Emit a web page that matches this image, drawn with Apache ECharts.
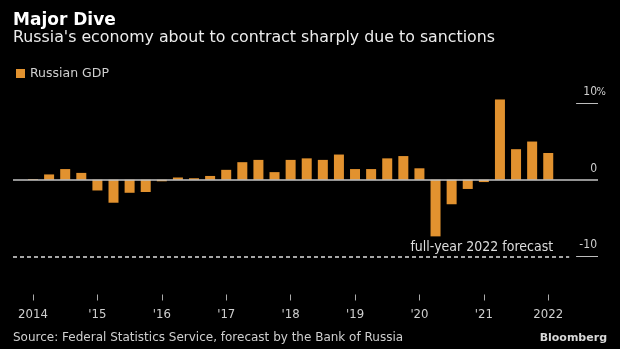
<!DOCTYPE html>
<html>
<head>
<meta charset="utf-8">
<script src="https://cdn.jsdelivr.net/npm/echarts@6/dist/echarts.min.js"></script>
<style>
  html, body { margin: 0; padding: 0; background: #000; }
  #chart { width: 620px; height: 349px; }
</style>
</head>
<body>
<div id="chart"></div>
<script>
// Russian GDP, year-over-year change in %, quarterly from 2014 Q1 to 2022 Q1
const gdpGrowth = [
  0.1, 0.7, 1.4, 0.9,      // 2014
  -1.4, -3.0, -1.7, -1.6,  // 2015
  -0.2, 0.3, 0.2, 0.5,     // 2016
  1.3, 2.3, 2.6, 1.0,      // 2017
  2.6, 2.8, 2.6, 3.3,      // 2018
  1.4, 1.4, 2.8, 3.1,      // 2019
  1.5, -7.4, -3.2, -1.2,   // 2020
  -0.3, 10.5, 4.0, 5.0,    // 2021
  3.5                      // 2022
];

// Year labels, one at each first quarter
const yearTickLabels = ['2014', "'15", "'16", "'17", "'18", "'19", "'20", "'21", '2022'];

// Central bank's full-year 2022 forecast, %
const forecast2022 = -10;

// Value axis labels, and the ones that get a short rule under them
const valueTicks = [-10, 0, 10];
const valueRules = [-10, 10];

const sans = "'DejaVu Sans', sans-serif";
const condensed = "'DejaVu Sans Condensed', 'DejaVu Sans', sans-serif";
const textGrey = '#cfcfcf';

const quarterIndex = gdpGrowth.map((v, i) => [i, v]);
const yearIndex = yearTickLabels.map((_, i) => i * 4);

// Horizontal extent of the plot, in quarters from 2014 Q1
const X_MIN = -1.242;
const X_MAX = 35.09;
const FORECAST_END = 33.3;
const RULE_START = 33.73;

const forecastLabel = {
  show: true, position: 'insideEndTop', distance: 2,
  formatter: 'full-year 2022 forecast',
  color: '#dddddd', fontFamily: condensed, fontSize: 14,
  padding: [0, 14, 0, 0]
};
const forecastStyle = { color: '#dddddd', width: 1.5, type: [4, 3] };
const ruleStyle = { color: '#bdbdbd', width: 1, type: 'solid' };

const markLines = [
  { yAxis: 0, lineStyle: { color: '#c4c4c4', width: 1.5, type: 'solid' }, label: { show: false } },
  [
    { coord: [X_MIN, forecast2022], lineStyle: forecastStyle, label: forecastLabel },
    { coord: [FORECAST_END, forecast2022], lineStyle: forecastStyle, label: forecastLabel }
  ]
].concat(valueRules.map(v => [
  { coord: [RULE_START, v], lineStyle: ruleStyle, label: { show: false } },
  { coord: [X_MAX, v], lineStyle: ruleStyle, label: { show: false } }
]));

const chart = echarts.init(document.getElementById('chart'), null, { renderer: 'canvas' });

chart.setOption({
  backgroundColor: '#000',
  animation: false,
  title: [
    {
      text: 'Major Dive',
      left: 13, top: 12, padding: 0,
      textStyle: { color: '#ffffff', fontFamily: sans, fontWeight: 'bold', fontSize: 17 }
    },
    {
      text: "Russia's economy about to contract sharply due to sanctions",
      left: 13, top: 30, padding: 0,
      textStyle: { color: '#ececec', fontFamily: sans, fontWeight: 'normal', fontSize: 15.8 }
    },
    {
      text: 'Source: Federal Statistics Service, forecast by the Bank of Russia',
      left: 13, top: 332, padding: 0,
      textStyle: { color: textGrey, fontFamily: sans, fontWeight: 'normal', fontSize: 12 }
    },
    {
      text: 'Bloomberg',
      right: 13, top: 333, padding: 0,
      textStyle: { color: '#d8d8d8', fontFamily: sans, fontWeight: 'bold', fontSize: 11 }
    }
  ],
  legend: {
    data: ['Russian GDP'],
    left: 16, top: 67, padding: 0,
    icon: 'rect', itemWidth: 9, itemHeight: 9,
    selectedMode: false,
    textStyle: { color: textGrey, fontFamily: sans, fontSize: 12.5 }
  },
  grid: { left: 13, right: 22, top: 88, bottom: 54.5 },
  xAxis: {
    type: 'value',
    min: X_MIN,
    max: X_MAX,
    axisLine: { show: false, onZero: false },
    splitLine: { show: false },
    axisTick: {
      show: true, length: 6, customValues: yearIndex,
      lineStyle: { color: '#aaaaaa', width: 1 }
    },
    axisLabel: {
      customValues: yearIndex,
      formatter: v => yearTickLabels[Math.round(v / 4)],
      color: textGrey, fontFamily: condensed, fontSize: 13, margin: 14
    }
  },
  yAxis: {
    type: 'value',
    position: 'right',
    min: -15,
    max: 12,
    axisLine: { show: false },
    splitLine: { show: false },
    axisTick: { show: false },
    axisLabel: {
      margin: 8,
      align: 'right',
      customValues: valueTicks,
      verticalAlign: 'bottom',
      padding: [0, 0, 5, 0],
      formatter: v => (v === 10 ? '{n|10}{p|%}' : '{n|' + v + '}{s| }'),
      rich: {
        n: { color: textGrey, fontFamily: condensed, fontSize: 12 },
        p: { color: textGrey, fontFamily: condensed, fontSize: 11, width: 9 },
        s: { fontSize: 11, width: 9 }
      }
    }
  },
  series: [
    {
      name: 'Russian GDP',
      type: 'bar',
      data: quarterIndex,
      barWidth: 10,
      itemStyle: { color: '#e2922f' },
      markLine: {
        silent: true,
        symbol: 'none',
        data: markLines
      }
    }
  ]
});
</script>
</body>
</html>
